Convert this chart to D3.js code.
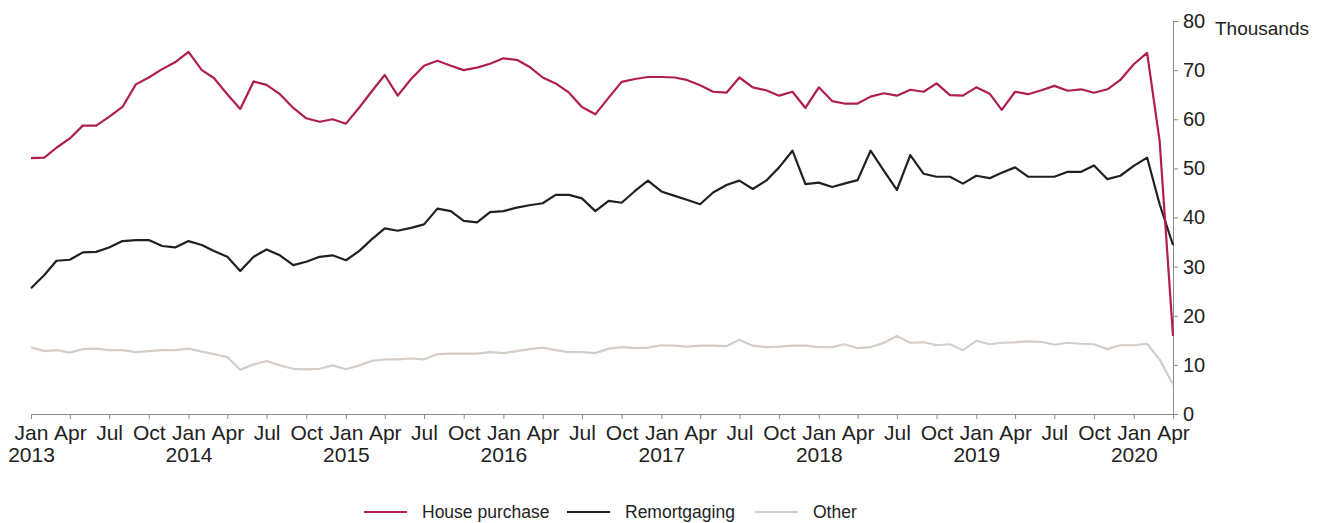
<!DOCTYPE html>
<html>
<head>
<meta charset="utf-8">
<script src="https://cdn.jsdelivr.net/npm/d3@7"></script>
<style>
  html, body { margin: 0; padding: 0; background: #fff; }
  svg { display: block; }
</style>
</head>
<body>
<svg id="chart" width="1326" height="523"></svg>
<script>
// ---- Data (thousands, monthly Jan 2013 – Apr 2020) ----
const startMonth = "2013-01";
const endMonth = "2020-04";
const seriesNames = ["House purchase", "Remortgaging", "Other"];
const housePurchase = [
  52.1, 52.2, 54.2, 56.1, 58.7, 58.7, 60.5, 62.5, 67.1, 68.5, 70.2, 71.6,
  73.7, 70.0, 68.4, 65.1, 62.1, 67.7, 67.0, 65.1, 62.3, 60.2, 59.5, 60.0,
  59.1, 62.4, 65.6, 69.0, 64.8, 68.2, 70.9, 71.9, 70.9, 70.0, 70.5, 71.3,
  72.4, 72.1, 70.7, 68.5, 67.3, 65.4, 62.5, 61.0, 64.4, 67.6, 68.2, 68.6,
  68.6, 68.5, 68.0, 66.9, 65.6, 65.4, 68.5, 66.5, 65.9, 64.8, 65.6, 62.3,
  66.5, 63.7, 63.2, 63.2, 64.6, 65.3, 64.8, 66.0, 65.6, 67.3, 64.9, 64.8,
  66.5, 65.2, 61.9, 65.6, 65.1, 65.9, 66.8, 65.8, 66.1, 65.4, 66.1, 68.0,
  71.2, 73.5, 55.6, 15.9
];
const remortgaging = [
  25.6, 28.3, 31.2, 31.4, 32.9, 33.0, 33.9, 35.2, 35.4, 35.4, 34.2, 33.9,
  35.2, 34.4, 33.2, 32.0, 29.1, 32.0, 33.5, 32.3, 30.3, 31.0, 32.0, 32.3,
  31.3, 33.2, 35.5, 37.8, 37.3, 37.9, 38.6, 41.8, 41.3, 39.3, 39.0, 41.1,
  41.3, 42.0, 42.5, 42.9, 44.6, 44.6, 43.9, 41.3, 43.4, 43.0, 45.4, 47.5,
  45.3, 44.4, 43.6, 42.7, 45.1, 46.6, 47.5, 45.8, 47.5, 50.2, 53.6, 46.8,
  47.1, 46.2, 46.9, 47.6, 53.6, 49.5, 45.6, 52.7, 48.9, 48.3, 48.3, 46.9,
  48.5, 48.0, 49.1, 50.2, 48.3, 48.3, 48.3, 49.3, 49.3, 50.6, 47.8, 48.5,
  50.5, 52.2, 42.7, 34.4
];
const other = [
  13.6, 12.8, 13.0, 12.5, 13.2, 13.3, 13.0, 13.0, 12.6, 12.8, 13.0, 13.0,
  13.3, 12.7, 12.2, 11.6, 9.0, 10.1, 10.8, 9.9, 9.2, 9.1, 9.2, 9.9,
  9.1, 9.9, 10.8, 11.1, 11.1, 11.3, 11.1, 12.2, 12.3, 12.3, 12.3, 12.6,
  12.4, 12.8, 13.2, 13.5, 13.0, 12.6, 12.6, 12.4, 13.3, 13.6, 13.4, 13.5,
  14.0, 13.9, 13.7, 13.9, 13.9, 13.8, 15.1, 13.9, 13.6, 13.7, 13.9, 13.9,
  13.6, 13.6, 14.2, 13.4, 13.6, 14.5, 15.9, 14.5, 14.6, 14.0, 14.2, 13.0,
  14.9, 14.2, 14.5, 14.6, 14.8, 14.7, 14.1, 14.5, 14.3, 14.2, 13.2, 14.0,
  14.0, 14.3, 11.1, 6.0
];
const yTicks = [0, 10, 20, 30, 40, 50, 60, 70, 80];
const monthTickLabels = ["Jan", "Apr", "Jul", "Oct"];
const yUnitLabel = "Thousands";
const colors = ["#b01e50", "#231f20", "#d4cdc8"];

// ---- Layout ----
const svg = d3.select("#chart");
const parse = d3.timeParse("%Y-%m");
const t0 = parse(startMonth), t1 = parse(endMonth);
const months = d3.timeMonth.range(t0, d3.timeMonth.offset(t1, 1));

const x = d3.scaleTime().domain([t0, t1]).range([31, 1173]);
const y = d3.scaleLinear().domain([0, 80]).range([414, 21]);

const axisColor = "#8a8a8a";
const textColor = "#222";
const font = "'Liberation Sans', Arial, sans-serif";

// X axis
const qTicks = d3.timeMonth.every(3).range(t0, d3.timeMonth.offset(t1, 1));
const xAxis = d3.axisBottom(x).tickValues(qTicks).tickSize(5).tickSizeOuter(0).tickPadding(6)
  .tickFormat(d => monthTickLabels[Math.floor(d.getMonth() / 3)]);
const gx = svg.append("g").attr("transform", `translate(0,${y(0)})`).call(xAxis);
gx.select(".domain").attr("stroke", axisColor);
gx.selectAll(".tick line").attr("stroke", axisColor);
gx.selectAll(".tick text")
  .attr("fill", textColor)
  .style("font-family", font)
  .style("font-size", "21px")
  .each(function(d) {
    if (d.getMonth() === 0) {
      d3.select(this).append("tspan")
        .attr("x", 0).attr("dy", "1.04em")
        .text(d.getFullYear());
    }
  });

// Y axis (right)
const yAxis = d3.axisRight(y).tickValues(yTicks).tickSize(5).tickSizeOuter(0).tickPadding(5);
const gy = svg.append("g").attr("transform", `translate(${x(t1)},0)`).call(yAxis);
gy.select(".domain").attr("stroke", axisColor);
gy.selectAll(".tick line").attr("stroke", axisColor);
gy.selectAll(".tick text")
  .attr("fill", textColor)
  .style("font-family", font)
  .style("font-size", "20px");

svg.append("text")
  .attr("x", 1215).attr("y", 35)
  .attr("fill", textColor)
  .style("font-family", font)
  .style("font-size", "19px")
  .text(yUnitLabel);

// Lines
const allSeries = [housePurchase, remortgaging, other];
const line = d3.line().x((d, i) => x(months[i])).y(d => y(d)).curve(d3.curveLinear);
[2, 1, 0].forEach(k => {
  svg.append("path")
    .datum(allSeries[k])
    .attr("fill", "none")
    .attr("stroke", colors[k])
    .attr("stroke-width", 2.2)
    .attr("stroke-linejoin", "round")
    .attr("d", line);
});

// Legend
const legendItems = [
  { name: seriesNames[0], color: colors[0], x: 364 },
  { name: seriesNames[1], color: colors[1], x: 567 },
  { name: seriesNames[2], color: colors[2], x: 755 }
];
const lg = svg.append("g");
legendItems.forEach(it => {
  lg.append("line")
    .attr("x1", it.x).attr("x2", it.x + 43)
    .attr("y1", 512).attr("y2", 512)
    .attr("stroke", it.color).attr("stroke-width", 2.2);
  lg.append("text")
    .attr("x", it.x + 58).attr("y", 518)
    .attr("fill", textColor)
    .style("font-family", font)
    .style("font-size", "17.5px")
    .text(it.name);
});
</script>
</body>
</html>
